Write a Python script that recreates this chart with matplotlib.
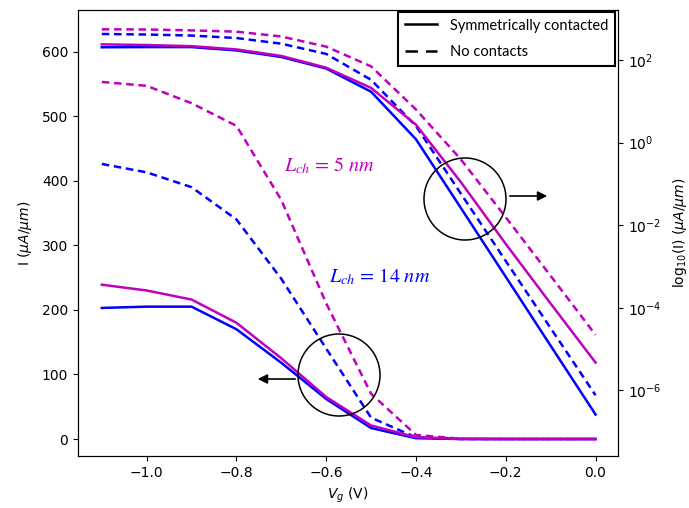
import matplotlib
matplotlib.use("Agg")
import matplotlib.pyplot as plt
from matplotlib.lines import Line2D
from matplotlib.patches import Ellipse

plt.rcParams['mathtext.fontset'] = 'dejavusans'

# Gate voltage (V)
vg = [-1.1, -1.0, -0.9, -0.8, -0.7, -0.6, -0.5, -0.4, -0.3, -0.2, -0.1, 0.0]

# Drain current (uA/um)
i_14_contact = [203, 205, 205, 170, 118, 62, 17, 1.2, 0.026, 5.6e-4, 1.2e-5, 2.6e-7]
i_5_contact = [239, 230, 216, 180, 125, 65, 21, 2.7, 0.11, 3.5e-3, 1.26e-4, 4.7e-6]
i_14_nocontact = [426, 413, 390, 340, 248, 140, 33, 2.5, 0.058, 1.35e-3, 3.2e-5, 7.6e-7]
i_5_nocontact = [553, 547, 520, 485, 370, 210, 70, 6.3, 0.39, 0.0155, 5.9e-4, 2.2e-5]

legend_labels = ["Symmetrically contacted", "No contacts"]
log_ticks = [1e-6, 1e-4, 1e-2, 1e0, 1e2]

W, H = 689, 508
fig = plt.figure(figsize=(W / 100, H / 100), dpi=100)
ax = fig.add_axes([78 / W, 1 - 456 / H, (618 - 78) / W, (456 - 10) / H])
ax2 = ax.twinx()

lw = 1.8
dash = (3.0, 1.9)
blue = '#0000ff'
mag = '#bf00bf'

for a in (ax, ax2):
    a.plot(vg, i_14_contact, color=blue, lw=lw, ls='-')
    a.plot(vg, i_14_nocontact, color=blue, lw=lw, ls='--', dashes=dash)
    a.plot(vg, i_5_contact, color=mag, lw=lw, ls='-')
    a.plot(vg, i_5_nocontact, color=mag, lw=lw, ls='--', dashes=dash)

ax2.set_yscale('log')
ax2.set_ylim(10 ** -7.59, 10 ** 3.21)
ax2.set_yticks(log_ticks)
ax2.yaxis.set_minor_locator(matplotlib.ticker.NullLocator())

ax.set_xlim(-1.153, 0.05)
ax.set_ylim(-26.3, 664.4)
ax.set_xticks([-1.0, -0.8, -0.6, -0.4, -0.2, 0.0])
ax.set_yticks([0, 100, 200, 300, 400, 500, 600])

ax.set_xlabel(r'$V_g$ (V)', fontsize=10)
ax.set_ylabel(r'I ($\mu A/\mu m$)', fontsize=10, labelpad=6)
ax2.set_ylabel(r'log$_{10}$(I) ($\mu A/\mu m$)', fontsize=10, labelpad=7)

# annotations
ax.text(-0.592, 423, r'$L_{ch}\, =\, 5\ nm$', color=mag, fontsize=14.5,
        ha='center', va='center', math_fontfamily='stix')
ax.text(-0.481, 252, r'$L_{ch}\, =\, 14\ nm$', color=blue, fontsize=14.5,
        ha='center', va='center', math_fontfamily='stix')

for (cx, cy) in [(339, 375), (465, 199)]:
    fig.patches.append(Ellipse((cx / W, 1 - cy / H), 82 / W, 82 / H,
                               transform=fig.transFigure, fill=False,
                               edgecolor='black', lw=1.1, zorder=5))

fig.add_artist(matplotlib.patches.FancyArrowPatch(
    (298 / W, 1 - 379 / H), (255 / W, 1 - 379 / H), transform=fig.transFigure,
    arrowstyle='-|>', mutation_scale=14, color='black', lw=1.2))
fig.add_artist(matplotlib.patches.FancyArrowPatch(
    (507 / W, 1 - 196 / H), (550 / W, 1 - 196 / H), transform=fig.transFigure,
    arrowstyle='-|>', mutation_scale=14, color='black', lw=1.2))

handles = [Line2D([], [], color='black', lw=1.8, ls='-'),
           Line2D([], [], color='black', lw=1.8, ls='--', dashes=(5, 3.2))]
leg = ax2.legend(handles, legend_labels, loc='upper right',
                 bbox_to_anchor=(615 / W, 1 - 12 / H),
                 bbox_transform=fig.transFigure, frameon=True, fancybox=False,
                 edgecolor='black', framealpha=1, labelspacing=0.85,
                 handlelength=2.2, handletextpad=0.9, borderpad=0.45,
                 borderaxespad=0,
                 prop={'family': 'Lato', 'size': 10.5})
leg.get_frame().set_linewidth(1.5)

fig.savefig('out.png', dpi=100)
